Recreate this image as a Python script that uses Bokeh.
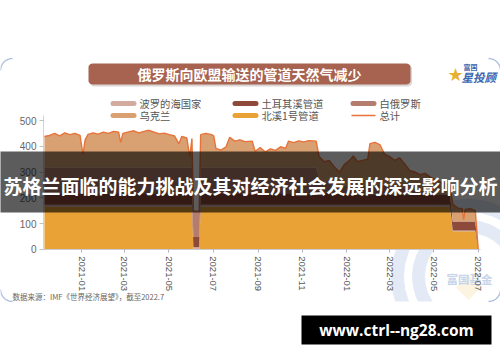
import math
from datetime import datetime
from bokeh.plotting import figure
from bokeh.models import (ColumnDataSource, Range1d, DatetimeTickFormatter, MonthsTicker, FixedTicker)
from bokeh.core.properties import value
from bokeh.embed import file_html
from bokeh.resources import INLINE

# ---------------- data (mcm/day) ----------------
dates = [
    "2020-11-11", "2020-11-18", "2020-11-25", "2020-12-02", "2020-12-09", "2020-12-16", "2020-12-23", "2020-12-30",
    "2021-01-03", "2021-01-06", "2021-01-10", "2021-01-17", "2021-01-24", "2021-01-31",
    "2021-02-07", "2021-02-14", "2021-02-21", "2021-02-24", "2021-02-27",
    "2021-03-07", "2021-03-14", "2021-03-21", "2021-03-28",
    "2021-04-04", "2021-04-11", "2021-04-18", "2021-04-25",
    "2021-05-02", "2021-05-09", "2021-05-15", "2021-05-19", "2021-05-26", "2021-05-30",
    "2021-06-02", "2021-06-04", "2021-06-12", "2021-06-14", "2021-06-21", "2021-06-28",
    "2021-07-02", "2021-07-05", "2021-07-12", "2021-07-19", "2021-07-24", "2021-07-31",
    "2021-08-07", "2021-08-14", "2021-08-24", "2021-08-28",
    "2021-09-04", "2021-09-11", "2021-09-18", "2021-09-25",
    "2021-10-02", "2021-10-09", "2021-10-13", "2021-10-20", "2021-10-27",
    "2021-11-03", "2021-11-10", "2021-11-20", "2021-11-24",
    "2021-12-01", "2021-12-08", "2021-12-15", "2021-12-22", "2021-12-29",
    "2022-01-05", "2022-01-10", "2022-01-16", "2022-01-23", "2022-01-30",
    "2022-02-02", "2022-02-09", "2022-02-16", "2022-02-22",
    "2022-03-01", "2022-03-08", "2022-03-15", "2022-03-22", "2022-03-29",
    "2022-04-05", "2022-04-12", "2022-04-19", "2022-04-26",
    "2022-05-03", "2022-05-10", "2022-05-17", "2022-05-23", "2022-05-27",
    "2022-06-03", "2022-06-09", "2022-06-11", "2022-06-13", "2022-06-20", "2022-06-27",
    "2022-07-01",
]

nord_stream = (
    [165, 165, 165, 165, 165, 165, 165, 165]
    + [165, 165, 165, 165, 165, 165]
    + [165, 165, 165, 165, 165]
    + [165, 165, 165, 165]
    + [165, 165, 165, 165]
    + [165, 165, 165, 165, 165, 165]
    + [165, 0, 0, 165, 165, 165]
    + [165, 165, 165, 165, 165, 165]
    + [165, 165, 165, 165]
    + [165, 165, 165, 165]
    + [165, 165, 165, 165, 165]
    + [165, 165, 165, 165]
    + [165, 165, 165, 165, 165]
    + [165, 165, 165, 165, 165]
    + [165, 165, 165, 165]
    + [165, 165, 165, 165, 165]
    + [165, 165, 165, 165]
    + [165, 165, 165, 165, 70]
    + [70, 70, 70, 70, 70, 70]
    + [0]
)

baltic = (
    [8] * 8 + [8] * 6 + [8] * 5 + [8] * 4 + [8] * 4 + [8] * 6
    + [8] * 6 + [8] * 6 + [8] * 4 + [8] * 4 + [8] * 5 + [8] * 4
    + [8] * 5 + [8] * 5 + [8] * 4 + [8] * 5 + [8] * 4
    + [8, 8, 8, 8, 3]
    + [3, 3, 3, 3, 3, 3]
    + [0]
)

turkstream = (
    [45] * 8 + [45] * 6 + [45] * 5 + [45] * 4 + [45] * 4 + [45] * 6
    + [45, 40, 40, 45, 45, 45]
    + [45] * 6 + [45] * 4 + [45] * 4 + [45] * 5 + [45] * 4 + [45] * 5
    + [40] * 5 + [40] * 4 + [40] * 5 + [40] * 4
    + [40, 40, 40, 40, 35]
    + [35, 35, 35, 35, 35, 35]
    + [0]
)

belarus = (
    [100] * 8 + [100] * 6 + [100] * 5 + [100] * 4 + [100] * 4 + [100] * 6
    + [100] * 6 + [100] * 6 + [100] * 4 + [100] * 4 + [100] * 5
    + [100, 100, 100, 60]
    + [45, 40, 30, 20, 30]
    + [30, 35, 30, 35, 35]
    + [40, 40, 40, 35]
    + [30, 30, 25, 25, 20]
    + [20, 15, 15, 10]
    + [10, 5, 5, 0, 0]
    + [0, 0, 0, 0, 0, 0]
    + [0]
)

ukraine = (
    [120, 124, 132, 122, 134, 127, 132, 124]
    + [50, 107, 128, 134, 129, 137]
    + [132, 140, 137, 97, 132]
    + [138, 142, 134, 140]
    + [144, 137, 130, 133]
    + [127, 122, 92, 120, 114, 40]
    + [112, 0, 0, 127, 132, 128]
    + [122, 74, 67, 80, 117, 102]
    + [107, 100, 102, 62]
    + [77, 60, 72, 66]
    + [80, 74, 102, 96, 103]
    + [99, 104, 102, 82]
    + [77, 87, 72, 62, 82]
    + [102, 114, 97, 97, 102]
    + [157, 162, 152, 122]
    + [117, 102, 117, 92, 72]
    + [67, 62, 67, 57]
    + [47, 44, 37, 35, 67]
    + [52, 50, 7, 47, 50, 42]
    + [0]
)

series_names = ["波罗的海国家", "土耳其溪管道", "白俄罗斯", "乌克兰", "北溪1号管道", "总计"]
y_ticks = [0, 100, 200, 300, 400, 500]

title_text = "俄罗斯向欧盟输送的管道天然气减少"
banner_text = "苏格兰面临的能力挑战及其对经济社会发展的深远影响分析"
source_text = "数据来源：IMF《世界经济展望》，截至2022.7"
url_text = "www.ctrl--ng28.com"

# ---------------- styling ----------------
C_NS = "#e9a235"
C_BALTIC = "#d3aa9e"
C_TURK = "#8d4a3b"
C_BELARUS = "#b47c6e"
C_UKR = "#d9a171"
C_TOTAL = "#e8733a"
CJK = "Noto Sans CJK SC"
LAT = "Liberation Sans"

W, H = 500, 362
EPOCH = datetime(1970, 1, 1)
DAY_MS = 86400000.0


def ms(dt):
    return (dt - EPOCH).total_seconds() * 1000.0


# page-pixel <-> data mapping of the chart area
PX_PER_DAY = 396.7 / 546.0           # 2021-01-01 at px 81, 2022-07-01 at px 477.7
X_REF_MS, X_REF_PX = ms(datetime(2021, 1, 1)), 81.0
Y0_PX, PX_PER_UNIT = 248.8, 0.2576   # value 0 at py 248.8


def px_to_ms(px):
    return X_REF_MS + (px - X_REF_PX) / PX_PER_DAY * DAY_MS


def py_to_val(py):
    return (Y0_PX - py) / PX_PER_UNIT


total = [a + b + c + d + e for a, b, c, d, e in zip(nord_stream, baltic, turkstream, belarus, ukraine)]
src = ColumnDataSource(dict(
    date=[datetime.strptime(d, "%Y-%m-%d") for d in dates],
    ns=nord_stream, baltic=baltic, turk=turkstream, belarus=belarus, ukr=ukraine, total=total,
))

p = figure(width=W, height=H, x_axis_type="datetime", title=None,
           x_range=Range1d(px_to_ms(0), px_to_ms(W)),
           y_range=Range1d(py_to_val(H), py_to_val(0)),
           output_backend="svg", toolbar_location=None, min_border=0,
           background_fill_color="white", border_fill_color="white", outline_line_color=None)
p.extra_x_ranges = {"px": Range1d(0, W)}
p.extra_y_ranges = {"px": Range1d(H, 0)}
p.xgrid.visible = False
p.ygrid.visible = False

PX = dict(x_range_name="px", y_range_name="px")


def quad(x0, y0, x1, y1, color, alpha=1.0, level="glyph"):
    p.quad(left=[x0], right=[x1], top=[y0], bottom=[y1], fill_color=color, fill_alpha=alpha,
           line_color=None, level=level, **PX)


def rrect(x0, y0, x1, y1, r, color, alpha=1.0):
    xs, ys = [], []
    for cx, cy, a0, a1 in [(x1 - r, y0 + r, -90, 0), (x1 - r, y1 - r, 0, 90),
                           (x0 + r, y1 - r, 90, 180), (x0 + r, y0 + r, 180, 270)]:
        for k in range(7):
            a = math.radians(a0 + (a1 - a0) * k / 6)
            xs.append(cx + r * math.cos(a))
            ys.append(cy + r * math.sin(a))
    p.patch(xs, ys, fill_color=color, fill_alpha=alpha, line_color=None, **PX)


def corner(cx, cy, sx, sy, r=12):
    xs = [cx + sx * r * math.cos(math.radians(9 * k)) for k in range(11)]
    ys = [cy + sy * r * math.sin(math.radians(9 * k)) for k in range(11)]
    p.line(xs, ys, line_color="#9fb4da", line_width=1.3, line_alpha=0.85, **PX)


def text(x, y, s, size, color, style="normal", align="center", font=CJK, level="glyph", alpha=1.0):
    p.text(x=[x], y=[y], text=[s], text_font=value(font), text_font_size=value(f"{size}px"),
           text_color=color, text_alpha=alpha, text_font_style=style, text_align=align,
           text_baseline="middle", level=level, **PX)


# ---- background watermark (rings + diamond, cut at the card's bottom edge) ----
p.annulus(x=[468], y=[276], inner_radius=65, outer_radius=77, color="#e3eaf5", **PX)
p.annulus(x=[468], y=[276], inner_radius=44, outer_radius=56, color="#e3eaf5", **PX)
quad(380, 301, 500, 362, "white")
p.scatter(x=[468], y=[287], marker="square", angle=0.785398, size=17, color="#fcf4e0", **PX)
text(469, 278, "富国基金", 11.5, "#c9d5ea", style="bold")

# card corners
corner(12, 70, -1, -1)
corner(488, 70, 1, -1)
corner(12, 289, -1, 1)
corner(488, 289, 1, 1)

# ---- the chart ----
p.varea_stack(stackers=["ns", "baltic", "turk", "belarus", "ukr"], x="date",
              color=[C_NS, C_BALTIC, C_TURK, C_BELARUS, C_UKR], source=src)
p.line("date", "total", source=src, color=C_TOTAL, line_width=1.4)

xa = p.xaxis[0]
xa.fixed_location = 0
xa.bounds = (px_to_ms(43), px_to_ms(480))
xa.ticker = MonthsTicker(months=[0, 2, 4, 6, 8, 10])
xa.formatter = DatetimeTickFormatter(months="%Y-%m", days="%Y-%m", years="%Y-%m")
xa.major_label_orientation = "vertical"
xa.major_label_text_font = LAT
xa.major_label_text_font_size = "9.5px"
xa.major_label_text_color = "#555555"
xa.axis_line_color = "#c8ccd4"
xa.major_tick_line_color = "#b0b4bc"
xa.major_tick_out = 3
xa.major_tick_in = 0
xa.minor_tick_line_color = None
xa.major_label_standoff = 4

ya = p.yaxis[0]
ya.fixed_location = px_to_ms(43)
ya.bounds = (0, 520)
ya.ticker = FixedTicker(ticks=y_ticks)
ya.major_label_text_font = LAT
ya.major_label_text_font_size = "10px"
ya.major_label_text_color = "#666666"
ya.axis_line_color = "#d4d4d4"
ya.major_tick_line_color = "#c0c0c0"
ya.major_tick_out = 4
ya.major_tick_in = 0
ya.minor_tick_line_color = None
ya.major_label_standoff = 3

# ---- title box ----
rrect(89.5, 64.5, 411.5, 86, 4, "#6e5e5a", alpha=0.25)
rrect(88, 63, 410, 84, 4, "#a86350")
text(249, 73.5, title_text, 14, "white", style="bold")

# ---- logo ----
text(455, 74, "★", 18, "#e8b030", font="DejaVu Sans")
text(470, 66, "富国", 7, "#3a66b0", style="bold")
text(461, 76, "星投顾", 11.5, "#3a66b0", style="bold italic", align="left")

# ---- legend ----
legend_rows = [
    (103, [(110, C_BALTIC, series_names[0]), (232, C_TURK, series_names[1]), (350, C_BELARUS, series_names[2])]),
    (115, [(110, C_UKR, series_names[3]), (232, C_NS, series_names[4]), (350, C_TOTAL, series_names[5])]),
]
for yy, items in legend_rows:
    for xx, col, name in items:
        if name == "总计":
            p.segment(x0=[xx + 1], y0=[yy], x1=[xx + 25], y1=[yy], line_color=col, line_width=1.5, **PX)
        else:
            p.segment(x0=[xx + 2.5], y0=[yy], x1=[xx + 23.5], y1=[yy], line_color=col,
                      line_width=5, line_cap="round", **PX)
        text(xx + 29, yy, name, 10.3, "#555555", align="left")

# ---- source ----
text(12, 296, source_text, 7.5, "#666666", align="left")

# ---- banner overlay ----
quad(0, 151, W, 212, "black", alpha=0.64, level="overlay")
text(250, 184.5, banner_text, 19, "white", style="bold", level="overlay")

# ---- url box ----
quad(301, 315, 491, 344, "black", level="overlay")
text(396, 329.5, url_text, 15.5, "white", style="bold", font="Open Sans", level="overlay")

open("out.html", "w").write(file_html(p, INLINE))
